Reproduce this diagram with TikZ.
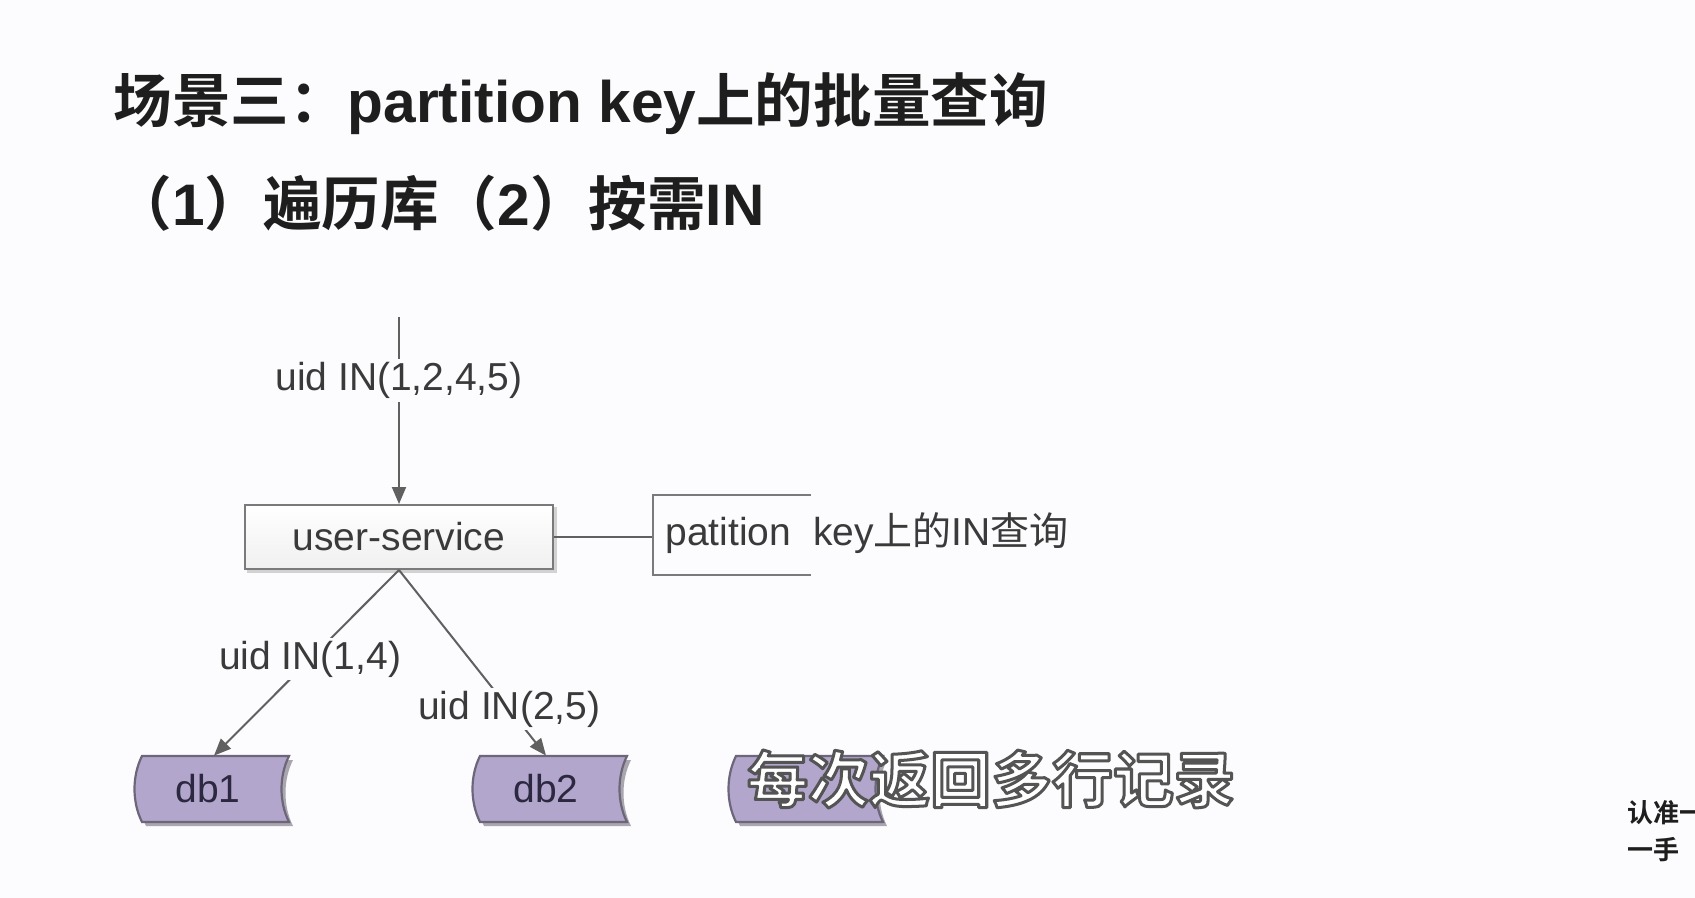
\documentclass[tikz,border=0pt]{standalone}
\usepackage{fontspec}
\setmainfont{Liberation Sans}
\newfontfamily\cjk{Noto Sans CJK SC}[BoldFont={Noto Sans CJK SC Bold}]
\usetikzlibrary{arrows.meta,calc}

\definecolor{pagebg}{HTML}{FCFBFD}
\definecolor{titletxt}{HTML}{1E1E1E}
\definecolor{txt}{HTML}{3A3A3A}
\definecolor{wire}{HTML}{606060}
\definecolor{boxline}{HTML}{7A7A7A}
\definecolor{dbfill}{HTML}{B2A6CC}
\definecolor{dbline}{HTML}{6C6678}
\definecolor{dbtxt}{HTML}{2C2840}
\definecolor{dbshade}{HTML}{A9A6B0}

\pgfdeclarelayer{back}
\pgfdeclarelayer{background}
\pgfsetlayers{back,background,main}

\newcommand\dfont{\fontsize{19.5}{23}\selectfont}
\newcommand\tfont{\fontsize{29.3}{35}\selectfont\bfseries}
% white lettering with a grey outline (fill + stroke text render mode)
\newcommand\outlined[1]{\special{pdf:literal 2 Tr 1.5 w 0.33 0.33 0.33 RG 1 j}#1\special{pdf:literal 0 Tr}}

% stored-data outline around a db node (drawn behind its label)
\newcommand\dbshape[1]{%
  \begin{pgfonlayer}{background}
    \fill[dbshade] ([shift={(4,4)}]#1.center) ++(-66,-33)
      .. controls +(-10,20) and +(-10,-20) .. ++(0,66) -- ++(147,0)
      .. controls +(-10,-20) and +(-10,20) .. ++(0,-66) -- cycle;
    \draw[dbline, fill=dbfill, line width=1.1pt] (#1.center) ++(-66,-33)
      .. controls +(-10,20) and +(-10,-20) .. ++(0,66) -- ++(147,0)
      .. controls +(-10,-20) and +(-10,20) .. ++(0,-66) -- cycle;
  \end{pgfonlayer}}

\tikzset{
  conn/.style={draw=wire, line width=1pt},
  arr/.style={conn, -{Triangle[length=8.5pt,width=7pt]}},
  lbl/.style={fill=pagebg, inner sep=1.5pt, font=\dfont, text=txt},
  svcbox/.style={draw=boxline, line width=1pt, top color=white, bottom color=gray!12,
    minimum width=154pt, minimum height=32pt, inner sep=0pt, font=\dfont, text=txt},
  dbbox/.style={inner sep=0pt, minimum height=33pt, font=\dfont, text=dbtxt},
}

\begin{document}
\begin{tikzpicture}[x=0.5pt,y=-0.5pt]
\useasboundingbox (0,0) rectangle (1695,898);
\begin{pgfonlayer}{back}
  \fill[pagebg] (0,0) rectangle (1695,898);
\end{pgfonlayer}

% heading
\node[anchor=west, inner sep=0pt, font=\tfont, text=titletxt] (title) at (113,104)
  {{\cjk 场景三：}partition key{\cjk 上的批量查询}};
\node[anchor=west, inner sep=0pt, font=\tfont, text=titletxt] (sub2) at (113,203)
  {{\cjk （}1{\cjk ）遍历库（}2{\cjk ）按需}IN};

% service box
\node[svcbox] (us) at (399,537) {user-service};
\begin{pgfonlayer}{background}
  \fill[gray!35] ([shift={(3,3)}]us.north west) rectangle ([shift={(3,3)}]us.south east);
\end{pgfonlayer}

% incoming request
\coordinate (src) at (399,317);
\draw[arr] (src) -- node[lbl, pos=0.34] (l0) {uid IN(1,2,4,5)} (us.north);

% annotation bracket
\coordinate (nl) at (653,537);
\coordinate (ntop) at (811,495);
\coordinate (nbot) at (811,575);
\draw[conn] (us.east) -- (nl);
\draw[conn, draw=boxline] (ntop) -- (ntop -| nl) -- (nbot -| nl) -- (nbot);
\node[anchor=west, inner sep=0pt, font=\dfont, text=txt] (note) at (665,533)
  {patition\hspace{11pt}key{\cjk 上的}IN{\cjk 查询}};

% databases
\node[dbbox] (db1) at (208,789) {db1};
\node[dbbox] (db2) at (546,789) {db2};
\node[dbbox, minimum width=20pt] (db3) at (802,789) {};
\dbshape{db1}
\dbshape{db2}
\dbshape{db3}

\draw[arr] (us.south) -- node[lbl, pos=0.48] (l1) {uid IN(1,4)} ([xshift=3pt]db1.north);
\draw[arr] (us.south) -- node[lbl, pos=0.75] (l2) {uid IN(2,5)} (db2.north);

% caption
\node[inner sep=0pt, font=\cjk\bfseries\fontsize{30.5}{36}\selectfont, text=white] (cap) at (991,779)
  {\outlined{每次返回多行记录}};

% corner mark
\node[anchor=west, inner sep=0pt, font=\cjk\bfseries\fontsize{13}{15}\selectfont, text=titletxt] (wm1) at (1627,813) {认准一};
\node[anchor=west, inner sep=0pt, font=\cjk\bfseries\fontsize{13}{15}\selectfont, text=titletxt] (wm2) at (1627,850) {一手};
\end{tikzpicture}
\end{document}
